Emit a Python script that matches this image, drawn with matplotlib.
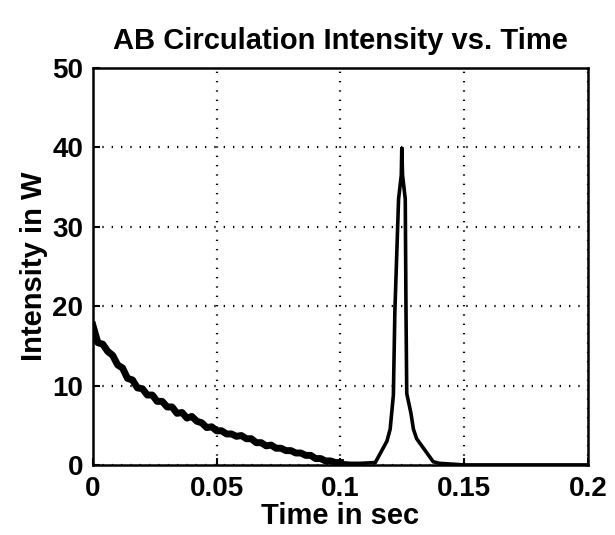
import numpy as np
import matplotlib
matplotlib.use("Agg")
import matplotlib.pyplot as plt

decay_t = [0.000, 0.002, 0.004, 0.006, 0.008, 0.010, 0.012, 0.014, 0.016, 0.018,
           0.020, 0.022, 0.024, 0.026, 0.028, 0.030, 0.032, 0.034, 0.036, 0.038,
           0.040, 0.042, 0.044, 0.046, 0.048, 0.050, 0.052, 0.054, 0.056, 0.058,
           0.060, 0.062, 0.064, 0.066, 0.068, 0.070, 0.072, 0.074, 0.076, 0.078,
           0.080, 0.082, 0.084, 0.086, 0.088, 0.090, 0.092, 0.094, 0.096, 0.098,
           0.100]
decay_w = [17.6, 15.4, 15.2, 14.3, 13.8, 12.6, 12.2, 10.9, 10.7, 9.7,
           9.6, 8.8, 8.8, 8.0, 8.0, 7.3, 7.3, 6.5, 6.6, 5.9, 6.1, 5.5,
           5.3, 4.7, 4.8, 4.3, 4.3, 3.9, 3.9, 3.6, 3.7, 3.3, 3.3, 2.8,
           2.8, 2.4, 2.5, 2.1, 2.1, 1.8, 1.8, 1.5, 1.5, 1.2, 1.2, 0.8,
           0.8, 0.5, 0.5, 0.3, 0.3]

# pulse part
pulse_t = [0.100, 0.104, 0.108, 0.1141, 0.1188, 0.1201, 0.1214, 0.1220,
           0.1235, 0.1246, 0.1248, 0.1251, 0.1262, 0.1265, 0.1268, 0.1285,
           0.1295, 0.1308, 0.1375, 0.140, 0.150, 0.200]
pulse_w = [0.3, 0.2, 0.2, 0.3, 3.0, 4.5, 8.8, 19.3,
           33.5, 36.5, 40.0, 36.5, 33.5, 19.3, 9.0, 6.5,
           4.5, 3.3, 0.4, 0.2, 0.0, 0.0]

plt.rcParams['font.family'] = ['Liberation Sans', 'DejaVu Sans']
plt.rcParams['font.weight'] = 'bold'

fig = plt.figure(figsize=(6.15, 5.35), dpi=100)
ax = fig.add_axes([0.151, 0.131, 0.805, 0.742])

ax.plot(decay_t, decay_w, color='black', linewidth=5, solid_joinstyle='round')
ax.plot(pulse_t, pulse_w, color='black', linewidth=2.6, solid_joinstyle='miter')

ax.set_xlim(0, 0.2)
ax.set_ylim(0, 50)
ax.set_xticks([0, 0.05, 0.1, 0.15, 0.2])
ax.set_xticklabels(['0', '0.05', '0.1', '0.15', '0.2'])
ax.set_yticks([0, 10, 20, 30, 40, 50])

ax.grid(True, color='black', linewidth=1.6, linestyle=(0, (0.6, 3.6)))
ax.tick_params(direction='in', length=5, width=1.5, labelsize=20)
ax.tick_params(axis='x', pad=8)
ax.tick_params(axis='y', pad=7)
for s in ax.spines.values():
    s.set_linewidth(1.8)

ax.set_title('AB Circulation Intensity vs. Time', fontsize=21, fontweight='bold', pad=14)
ax.set_xlabel('Time in sec', fontsize=21, fontweight='bold', labelpad=0)
ax.set_ylabel('Intensity in W', fontsize=21, fontweight='bold', labelpad=3)

fig.savefig('out.png', dpi=100)
